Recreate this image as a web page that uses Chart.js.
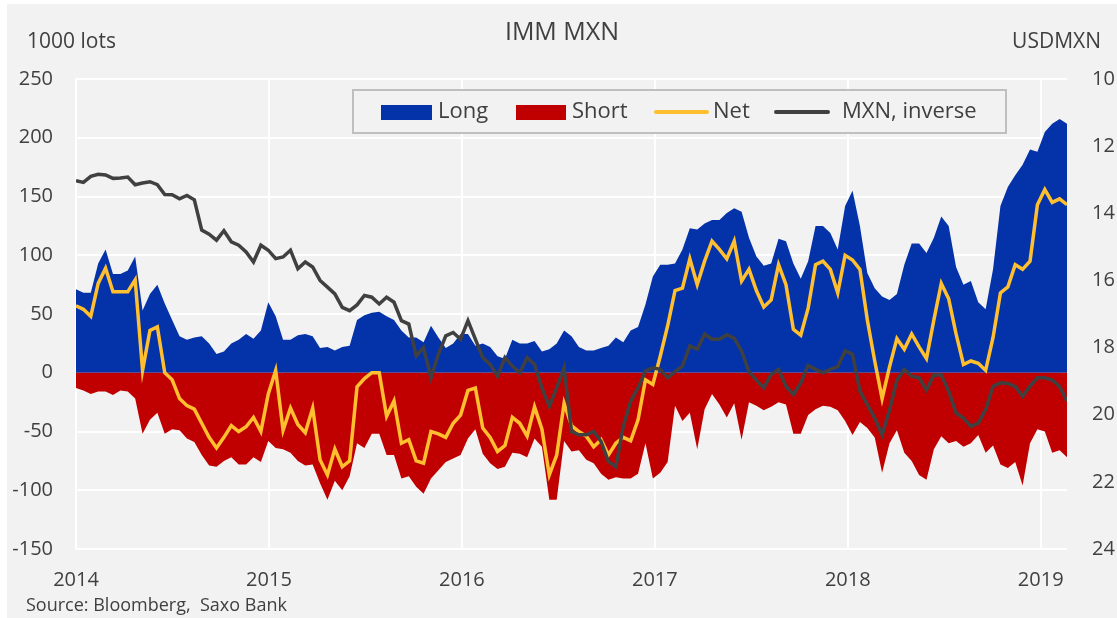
<!DOCTYPE html>
<html><head><meta charset="utf-8">
<script src="https://cdn.jsdelivr.net/npm/chart.js@4.4.1/dist/chart.umd.min.js"></script>
<style>
html,body{margin:0;padding:0;background:#f2f2f2;}
canvas{display:block;}
</style></head><body>
<canvas id="c" width="1117" height="618"></canvas>
<script>
// ---- data (biweekly observations starting Jan 2014) ----
const startYear = 2014;
const stepDays = 14;
const longPos = [71,68,68,93,105,84,84,87,99,53,
67,75,59,45,31,28,30,31,25,16,
18,25,28,33,29,36,60,48,28,28,
32,33,31,21,22,19,22,23,45,49,
51,52,48,45,36,30,
30,26,40,30,
21,25,33,33,23,25,22,14,12,28,
25,25,27,18,20,25,36,31,22,19,
19,21,23,30,26,36,39,58,82,92,
92,93,105,123,122,127,130,130,136,140,
137,115,99,91,93,114,112,93,80,95,
125,125,119,105,142,155,125,85,72,65,
62,67,92,110,110,102,115,133,125,90,
75,78,60,54,88,142,158,168,177,190,
188,205,212,216,212];
const shortPos = [-13,-15,-18,-16,-16,-19,-15,-16,-22,-52,
-40,-34,-52,-48,-49,-56,-59,-70,-79,-80,
-75,-72,-78,-78,-72,-76,-58,-64,-65,-68,
-75,-79,-78,-94,-108,-92,-100,-88,-60,-64,
-52,-52,-70,-70,-90,-88,
-97,-103,-90,-83,
-76,-73,-70,-56,-48,-69,-77,-82,-80,-68,
-69,-72,-56,-63,-108,-108,-58,-67,-66,-74,
-77,-86,-91,-89,-90,-90,-86,-60,-90,-85,
-76,-28,-41,-34,-65,-31,-18,-27,-38,-26,
-57,-25,-28,-32,-29,-25,-27,-52,-52,-36,
-31,-28,-29,-32,-41,-53,-42,-47,-55,-85,
-60,-49,-68,-75,-87,-91,-65,-54,-60,-58,
-63,-60,-53,-68,-62,-78,-81,-76,-96,-60,
-48,-50,-68,-66,-72];
const netPos = [57,54,48,76,89,69,69,69,79,2,
36,39,0,-6,-22,-28,-31,-43,-55,-64,
-55,-45,-50,-46,-38,-50,-18,2,-49,-30,
-44,-51,-30,-74,-87,-65,-80,-75,-12,-5,
0,0,-37,-24,-60,-57,
-75,-77,-50,-52,
-55,-43,-36,-15,-13,-47,-55,-67,-62,-38,
-43,-54,-29,-48,-87,-70,-26,-45,-50,-54,
-63,-57,-70,-60,-55,-58,-40,-6,-10,14,
40,70,72,97,75,95,112,105,97,112,
78,88,70,56,62,92,75,37,32,55,
92,95,88,68,100,96,88,45,10,-22,
5,29,20,33,22,12,45,76,63,33,
7,10,8,2,30,68,73,92,88,95,
143,156,145,148,143];
const mxnInverse = [13.03,13.08,12.9,12.84,12.86,12.96,12.95,12.92,13.15,13.1,
13.06,13.15,13.44,13.45,13.57,13.47,13.6,14.5,14.62,14.8,
14.52,14.85,14.95,15.15,15.45,14.95,15.1,15.35,15.3,15.1,
15.65,15.45,15.6,16.0,16.2,16.4,16.8,16.9,16.73,16.45,
16.5,16.7,16.5,16.65,17.2,17.3,
18.25,18.0,18.9,18.2,
17.65,17.55,17.75,17.2,17.75,18.3,18.5,18.85,18.3,18.55,
18.75,18.3,18.5,19.2,19.75,19.2,18.6,20.5,20.6,20.6,
20.5,20.8,21.4,21.55,20.35,19.6,19.2,18.7,18.6,18.65,
18.9,18.72,18.55,17.95,18.05,17.6,17.75,17.75,17.62,17.72,
18.1,18.72,18.97,19.2,18.8,18.65,19.15,19.4,19.05,18.53,
18.65,18.75,18.65,18.57,18.1,18.2,19.3,19.7,20.1,20.6,
19.86,18.97,18.65,18.85,18.9,19.26,18.82,18.82,19.3,19.95,
20.1,20.35,20.25,19.85,19.15,19.05,19.07,19.16,19.45,19.15,
18.9,18.9,18.97,19.16,19.6];
const yearTicks = [2014,2015,2016,2017,2018,2019];
const leftTicks = [-150,-100,-50,0,50,100,150,200,250];
const rightTicks = [10,12,14,16,18,20,22,24];
const seriesNames = ['Long','Short','Net','MXN, inverse'];
const titleText = 'IMM MXN';
const leftUnit = '1000 lots';
const rightUnit = 'USDMXN';
const sourceText = 'Source: Bloomberg,  Saxo Bank';

// ---- build ----
const xs = longPos.map((_, i) => startYear + i * stepDays / 365.25);
const pts = arr => arr.map((v, i) => ({x: xs[i], y: v}));

const C_LONG = '#0432a8', C_SHORT = '#c00000', C_NET = '#ffbf2e', C_MXN = '#404040';
const TXT = '#404040';
const FONT = '"Open Sans", "Noto Sans", sans-serif';

const overlay = {
  id: 'overlay',
  beforeDraw(chart) {
    const ctx = chart.ctx;
    ctx.save();
    ctx.fillStyle = '#ffffff';
    ctx.fillRect(0, 0, chart.width, chart.height);
    ctx.fillStyle = '#f2f2f2';
    ctx.fillRect(7, 4, chart.width - 7, chart.height - 4);
    ctx.restore();
  },
  afterDatasetsDraw(chart) {
    const ctx = chart.ctx;
    ctx.save();
    // legend box
    ctx.fillStyle = '#f2f2f2';
    ctx.fillRect(353, 90, 653, 43);
    ctx.strokeStyle = '#bfbfbf';
    ctx.lineWidth = 2;
    ctx.strokeRect(353, 90, 653, 43);
    const yMid = 112;
    ctx.font = '22px ' + FONT;
    ctx.fillStyle = TXT;
    ctx.textBaseline = 'middle';
    ctx.textAlign = 'left';
    // Long
    ctx.fillStyle = C_LONG; ctx.fillRect(381, 105, 51, 15);
    ctx.fillStyle = TXT; ctx.fillText(seriesNames[0], 438, yMid);
    // Short
    ctx.fillStyle = C_SHORT; ctx.fillRect(516, 105, 50, 15);
    ctx.fillStyle = TXT; ctx.fillText(seriesNames[1], 572, yMid);
    // Net
    ctx.strokeStyle = C_NET; ctx.lineWidth = 4; ctx.lineCap = 'round';
    ctx.beginPath(); ctx.moveTo(656, yMid); ctx.lineTo(707, yMid); ctx.stroke();
    ctx.fillStyle = TXT; ctx.fillText(seriesNames[2], 713, yMid);
    // MXN
    ctx.strokeStyle = C_MXN;
    ctx.beginPath(); ctx.moveTo(776, yMid); ctx.lineTo(828, yMid); ctx.stroke();
    ctx.fillStyle = TXT; ctx.fillText(seriesNames[3], 842, yMid);
    ctx.restore();
  },
  afterDraw(chart) {
    const ctx = chart.ctx;
    ctx.save();
    ctx.fillStyle = TXT;
    ctx.textBaseline = 'middle';
    ctx.font = '25px ' + FONT;
    ctx.textAlign = 'center';
    ctx.fillText(titleText, 562, 33);
    ctx.font = '21px ' + FONT;
    ctx.textAlign = 'left';
    ctx.fillText(leftUnit, 27, 42);
    ctx.textAlign = 'right';
    ctx.fillText(rightUnit, 1101, 42);
    ctx.font = '18px ' + FONT;
    ctx.textAlign = 'left';
    ctx.fillText(sourceText, 26, 606);
    ctx.restore();
  }
};

new Chart(document.getElementById('c'), {
  type: 'line',
  data: {
    datasets: [
      {label: seriesNames[3], data: pts(mxnInverse), yAxisID: 'y2', borderColor: C_MXN, borderWidth: 3.5, pointRadius: 0, fill: false, order: 0, tension: 0},
      {label: seriesNames[2], data: pts(netPos), yAxisID: 'y', borderColor: C_NET, borderWidth: 3.5, pointRadius: 0, fill: false, order: 1, tension: 0},
      {label: seriesNames[1], data: pts(shortPos), yAxisID: 'y', borderColor: C_SHORT, backgroundColor: C_SHORT, borderWidth: 0, pointRadius: 0, fill: 'origin', order: 2, tension: 0},
      {label: seriesNames[0], data: pts(longPos), yAxisID: 'y', borderColor: C_LONG, backgroundColor: C_LONG, borderWidth: 0, pointRadius: 0, fill: 'origin', order: 3, tension: 0}
    ]
  },
  options: {
    responsive: false,
    animation: false,
    devicePixelRatio: 1,
    layout: {padding: {top: 79, left: 0, right: 0, bottom: 0}},
    plugins: {legend: {display: false}, tooltip: {enabled: false}, title: {display: false}},
    scales: {
      x: {
        type: 'linear',
        min: yearTicks[0],
        max: xs[xs.length - 1],
        afterBuildTicks: s => { s.ticks = yearTicks.map(v => ({value: v})); },
        afterFit: s => { s.height = 69; },
        ticks: {font: {family: FONT, size: 20}, color: TXT, padding: 19, maxRotation: 0, autoSkip: false,
                callback: v => String(v)},
        grid: {color: '#ffffff', lineWidth: 2, drawTicks: false},
        border: {display: false}
      },
      y: {
        position: 'left',
        min: leftTicks[0], max: leftTicks[leftTicks.length - 1],
        afterBuildTicks: s => { s.ticks = leftTicks.map(v => ({value: v})); },
        afterFit: s => { s.width = 76; },
        ticks: {font: {family: FONT, size: 20}, color: TXT, padding: 23},
        grid: {color: '#ffffff', lineWidth: 2, drawTicks: false},
        border: {display: false}
      },
      y2: {
        position: 'right',
        reverse: true,
        min: rightTicks[0], max: rightTicks[rightTicks.length - 1],
        afterBuildTicks: s => { s.ticks = rightTicks.map(v => ({value: v})); },
        afterFit: s => { s.width = 50; },
        ticks: {font: {family: FONT, size: 20}, color: TXT, padding: 25},
        grid: {display: false, drawTicks: false},
        border: {display: false}
      }
    }
  },
  plugins: [overlay]
});
</script>
</body></html>
